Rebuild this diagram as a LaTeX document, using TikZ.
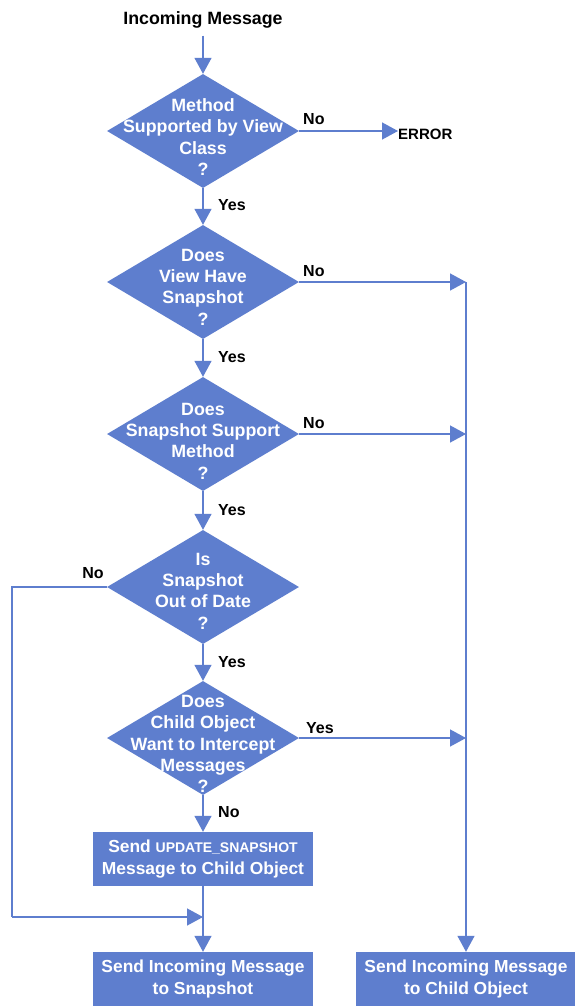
\documentclass[tikz,border=0pt]{standalone}
\usepackage{fontspec}
\setmainfont{Liberation Sans}
\usepackage{tikz}
\usetikzlibrary{arrows.meta}
\usetikzlibrary{shapes.geometric}
\definecolor{flowblue}{RGB}{94,126,206}

\tikzset{
  decision/.style={shape=diamond, fill=flowblue, minimum width=192pt, minimum height=114pt, inner sep=0pt},
  qtext/.style={text=white, align=center, inner sep=0pt, font=\bfseries\fontsize{17.8}{21.3}\selectfont},
  action/.style={rectangle, fill=flowblue, text=white, align=center, minimum width=220pt, minimum height=54pt, inner sep=0pt, font=\bfseries\fontsize{17.4}{22}\selectfont},
  flow/.style={draw=flowblue, line width=1.4pt, -{Triangle[length=16pt,width=17pt]}},
  lbl/.style={font=\bfseries\fontsize{16}{19}\selectfont, inner sep=0pt},
  start/.style={font=\bfseries\fontsize{17.8}{21}\selectfont, inner sep=7pt}
}

\begin{document}
\begin{tikzpicture}[x=1pt,y=-1pt]
\useasboundingbox (0,0) rectangle (575,1006);
\fill[white] (0,0) rectangle (575,1006);
%\draw[help lines, color=gray!30, dashed] (0,0) grid[step=50] (575,1006);

\node[start] (in) at (203,20) {Incoming Message};

\node[decision] (d1) at (203,131) {};
\node[qtext] (t1) at (203,137) {Method\\Supported by View\\Class\\?};

\node[decision] (d2) at (203,282) {};
\node[qtext] (t2) at (203,287) {Does\\View Have\\Snapshot\\?};

\node[decision] (d3) at (203,434) {};
\node[qtext] (t3) at (203,441) {Does\\Snapshot Support\\Method\\?};

\node[decision] (d4) at (203,587) {};
\node[qtext] (t4) at (203,591) {Is\\Snapshot\\Out of Date\\?};

\node[decision] (d5) at (203,738) {};
\node[qtext] (t5) at (203,744) {Does\\Child Object\\Want to Intercept\\Messages\\?};

\node[action] (a1) at (203,859) {Send {\fontsize{14}{22}\selectfont UPDATE\_SNAPSHOT}\\Message to Child Object};
\node[action] (a2) at (203,979) {Send Incoming Message\\to Snapshot};
\node[action] (a3) at (466,979) {Send Incoming Message\\to Child Object};

\node[lbl, anchor=west, font=\bfseries\fontsize{15}{18}\selectfont] (err) at (398,134) {ERROR};

\draw[flow] (in.south) -- (d1.north);
\draw[flow] (d1.east) -- (d1.east -| err.west);
\draw[flow] (d1.south) -- (d2.north);
\draw[flow] (d2.south) -- (d3.north);
\draw[flow] (d3.south) -- (d4.north);
\draw[flow] (d4.south) -- (d5.north);
\draw[flow] (d5.south) -- (a1.north);
\draw[flow] (a1.south) -- (a2.north);

% right side
\draw[flow] (d2.east) -- (d2.east -| a3.north);
\draw[flow] (d3.east) -- (d3.east -| a3.north);
\draw[flow] (d5.east) -- (d5.east -| a3.north);
\draw[flow] (d2.east -| a3.north) -- (a3.north);

% left side
\coordinate (lp) at (12,917);
\draw[draw=flowblue, line width=1.4pt] (d4.west) -| (lp);
\draw[flow] (lp) -- (lp -| a1.south);

\node[lbl, anchor=west] (y1) at (218,205) {Yes};
\node[lbl, anchor=west] (y2) at (218,357) {Yes};
\node[lbl, anchor=west] (y3) at (218,510) {Yes};
\node[lbl, anchor=west] (y4) at (218,662) {Yes};
\node[lbl, anchor=west] (n5) at (218,812) {No};

\node[lbl, anchor=west] (n1) at (303,119) {No};
\node[lbl, anchor=west] (n2) at (303,271) {No};
\node[lbl, anchor=west] (n3) at (303,423) {No};
\node[lbl, anchor=west] (y5) at (306,728) {Yes};
\node[lbl] (n4) at (93,573) {No};

\end{tikzpicture}
\end{document}
